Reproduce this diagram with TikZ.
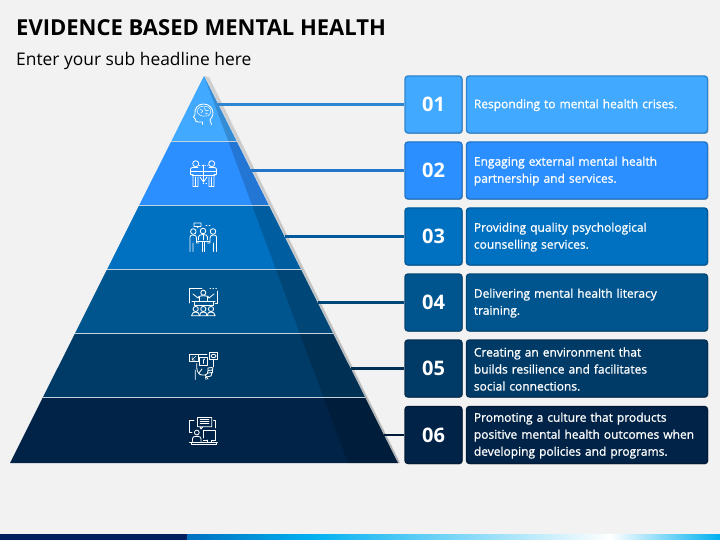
\documentclass[tikz,border=0pt]{standalone}
\usepackage{fontspec}
\setmainfont{Open Sans}
\newfontfamily\semifont[RawFeature={embolden=1.0}]{Open Sans}
\definecolor{pagebg}{HTML}{F2F2F2}
\definecolor{cA}{HTML}{41A9FF}\definecolor{bA}{HTML}{2E86D0}
\definecolor{cB}{HTML}{2B8FFF}\definecolor{bB}{HTML}{2176CC}
\definecolor{cC}{HTML}{0070C0}\definecolor{bC}{HTML}{005A9C}
\definecolor{cD}{HTML}{00558F}\definecolor{bD}{HTML}{004676}
\definecolor{cE}{HTML}{003A66}\definecolor{bE}{HTML}{002F54}
\definecolor{cF}{HTML}{002347}\definecolor{bF}{HTML}{001B38}
\definecolor{sepline}{HTML}{C4D2DE}
\definecolor{navybar}{HTML}{001F5F}
\definecolor{barblue}{HTML}{0070C0}
\definecolor{barcyan}{HTML}{00B0F0}
\usetikzlibrary{shadows}
\tikzset{
  softshadow/.style={drop shadow={shadow xshift=0.8pt,shadow yshift=-0.8pt,opacity=0.35,fill=black}},
  numbox/.style={rectangle,rounded corners=3pt,line width=1.4pt,minimum width=57pt,minimum height=57pt,
    inner sep=0pt,text=white,font=\fontsize{20}{24}\selectfont\bfseries,softshadow},
  txtbox/.style={rectangle,rounded corners=3pt,line width=1.4pt,minimum width=241pt,minimum height=57pt,
    inner sep=0pt,softshadow},
  txtlabel/.style={inner sep=0pt,text width=227pt,align=left,text=white,
    font=\semifont\fontsize{12}{17}\selectfont},
  linker/.style={line width=2.2pt},
  icon/.style={draw=white,line width=0.85pt,line join=round,line cap=round,fill=none},
  headline/.style={anchor=base west,inner sep=0pt,text=black},
}
\newcommand{\rowboxes}[6]{%
  \node[numbox,fill=#2,draw=#3] (num#1) at (433.5,#4) {#5};
  \node[txtbox,fill=#2,draw=#3] (txt#1) at (587,#4) {};
  \node[txtlabel] (lab#1) at (587.4,#4+0.6) {#6};
}
\begin{document}
\begin{tikzpicture}[x=1pt,y=-1pt]
\useasboundingbox (0,0) rectangle (720,540);
\fill[pagebg] (0,0) rectangle (720,540);
% bottom bar
\fill[left color=barblue,right color=barcyan] (187,534) rectangle (310,540);
\fill[left color=barcyan,right color=white] (310,534) rectangle (610,540);
\fill[left color=white,right color=barcyan] (610,534) rectangle (720,540);
\fill[navybar] (0,534) rectangle (187,540);
% titles
\node[headline,font=\fontsize{22}{26}\selectfont\bfseries] (title) at (16,36) {EVIDENCE BASED MENTAL HEALTH};
\node[headline,font=\fontsize{17.4}{20}\selectfont] (sub) at (16,66) {Enter your sub headline here};
% pyramid shadow
\foreach \d in {1,2,...,6}{
  \draw[black,opacity=0.08,line width=1pt] (204+\d*0.8,76+\d*0.2) -- (398+\d*0.3,463);
}
% pyramid
\begin{scope}
  \clip (204,76) -- (398,463) -- (10,463) -- cycle;
  \fill[cA] (0,70) rectangle (420,141.5);
  \fill[cB] (0,141.5) rectangle (420,205.5);
  \fill[cC] (0,205.5) rectangle (420,269.5);
  \fill[cD] (0,269.5) rectangle (420,333.5);
  \fill[cE] (0,333.5) rectangle (420,397.5);
  \fill[cF] (0,397.5) rectangle (420,470);
  \fill[black,opacity=0.17] (204,76) -- (348,463) -- (398,463) -- cycle;
  \foreach \y in {141.5,205.5,269.5,333.5,397.5}{
    \draw[sepline,line width=0.9pt] (0,\y) -- (420,\y);
  }
\end{scope}
% boxes
\rowboxes{1}{cA}{bA}{104.5}{01}{Responding to mental health crises.}
\rowboxes{2}{cB}{bB}{170.5}{02}{Engaging external mental health\\partnership and services.}
\rowboxes{3}{cC}{bC}{236.5}{03}{Providing quality psychological\\counselling services.}
\rowboxes{4}{cD}{bD}{302.5}{04}{Delivering mental health literacy\\training.}
\rowboxes{5}{cE}{bE}{368.5}{05}{Creating an environment that\\builds resilience and facilitates\\social connections.}
\rowboxes{6}{cF}{bF}{435}{06}{Promoting a culture that products\\positive mental health outcomes when\\developing policies and programs.}
% connectors
\coordinate (e1) at (218,104.5);
\coordinate (e2) at (251,170.5);
\coordinate (e3) at (285,236.5);
\coordinate (e4) at (318,302.5);
\coordinate (e5) at (351,368.5);
\coordinate (e6) at (384,435);
\draw[linker,bA] (e1) -- (num1);
\draw[linker,bB] (e2) -- (num2);
\draw[linker,bC] (e3) -- (num3);
\draw[linker,bD] (e4) -- (num4);
\draw[linker,bE] (e5) -- (num5);
\draw[linker,bF] (e6) -- (num6);
% icon 1: head with brain
\draw[icon] (202.5,124.5) -- (202.5,122) -- (198,122) .. controls (196,122) and (195.2,121) .. (195.2,119) -- (193.5,117) -- (195,114.5) .. controls (194,108.5) and (198,104) .. (203.5,104) .. controls (209,104) and (213,108) .. (213,113) .. controls (213,117) and (210.5,118) .. (210,120) -- (211.5,124.5);
\draw[icon,line width=0.5pt] (197.5,110) .. controls (198,106.5) and (203,105.5) .. (206,106.5) .. controls (210,107) and (211.5,110) .. (210.5,113) .. controls (210,116) and (207,116.5) .. (205,116) .. controls (202,117) and (199,114.5) .. (197.5,113) -- cycle;
\draw[icon,line width=0.5pt] (200,109) -- (203,111) -- (201,113) (204,107.5) -- (206,111) -- (209,110) (205,113) -- (208,114);
% icon 2: meeting, two people
\draw[icon] (195.7,163.7) circle (3) (211.7,163.7) circle (3);
\draw[icon] (198,167.5) -- (192.5,167.5) .. controls (191,167.5) and (190.5,168.5) .. (190.5,170) -- (190.5,174.5) -- (193,174.5) -- (193,186.5) -- (198,186.5) -- (198,177) (195.5,186.5) -- (195.5,177);
\draw[icon] (209,167.5) -- (214.5,167.5) .. controls (216,167.5) and (216.5,168.5) .. (216.5,170) -- (216.5,174.5) -- (214,174.5) -- (214,186.5) -- (209,186.5) -- (209,177) (211.5,186.5) -- (211.5,177);
\draw[icon] (191,171.5) -- (216,171.5) (192,175) -- (215,175);
\draw[icon] (203.5,165) -- (203.5,182) (200,177) -- (203.5,182) -- (207,177);
\draw[icon,dotted,line width=0.5pt] (199,165) -- (208,165) (203,183) -- (208,183);
% icon 3: three people
\draw[icon] (193.3,231.5) circle (2.8) (203,231) circle (2.8) (213,231.5) circle (2.8);
\draw[icon] (194,223) rectangle (201,226.5) (197,226.5) -- (198,228);
\draw[icon,line width=0.6pt] (206,225.5) -- (207,225.5) (209,225.5) -- (210,225.5);
\draw[icon] (190,251.5) -- (190,237) .. controls (190,235.5) and (191,235) .. (193,235) .. controls (195.5,235) and (196.5,236) .. (196.5,238) -- (196.5,243) -- (199,243) (193,251.5) -- (193,243);
\draw[icon] (216.5,251.5) -- (216.5,237) .. controls (216.5,235.5) and (215.5,235) .. (213.5,235) .. controls (211,235) and (210,236) .. (210,238) -- (210,243) -- (207.5,243) (213.5,251.5) -- (213.5,243);
\draw[icon] (198.5,240) -- (198.5,237) .. controls (198.5,235.5) and (200,234.5) .. (203,234.5) .. controls (206,234.5) and (207.5,235.5) .. (207.5,237) -- (207.5,240);
\draw[icon] (197,241.5) -- (209.5,241.5) (202,241.5) -- (202,251.5) (204.5,241.5) -- (204.5,251.5) (203,235) -- (203,240);
% icon 4: board and audience
\draw[icon] (202,288.5) -- (189.5,288.5) -- (189.5,303) (217.5,291) -- (217.5,303) -- (215,303);
\draw[icon,dotted,line width=0.6pt] (210,288.5) -- (217.5,288.5);
\draw[icon] (203.3,292.7) circle (2.5);
\draw[icon] (193,294) -- (198,298) -- (199,296.5) .. controls (201,295.5) and (206,295.5) .. (208,296.5) -- (209,298) -- (214,294);
\draw[icon] (199.5,297) -- (199.5,301) (207,297) -- (207,301);
\draw[icon,line width=1pt] (192,301.5) -- (215,301.5);
\draw[icon] (194,302.5) -- (194,305) -- (213,305) -- (213,302.5);
\draw[icon] (195.7,309) circle (2.6) (203.3,309) circle (2.6) (211,309) circle (2.6);
\draw[icon] (191.5,315.7) .. controls (192,313) and (193.5,312) .. (195.7,312) .. controls (198,312) and (199.2,313) .. (199.5,315.7) -- cycle;
\draw[icon] (199.5,315.7) .. controls (199.7,313) and (201,312) .. (203.3,312) .. controls (205.5,312) and (207,313) .. (207.2,315.7) -- cycle;
\draw[icon] (207.2,315.7) .. controls (207.5,313) and (208.7,312) .. (211,312) .. controls (213.2,312) and (214.7,313) .. (215.2,315.7) -- cycle;
% icon 5: social media hand
\draw[icon] (189.3,354.5) rectangle (198,361.8);
\draw[icon] (199,357.5) rectangle (207.7,365);
\draw[icon] (209.3,352.5) rectangle (217.7,359.7);
\draw[icon] (213.5,356) ellipse (2.5 and 1.7);
\draw[icon,line width=0.5pt] (192,360) -- (196,356) (192,356.5) -- (192,360) -- (195,360);
\draw[icon,line width=0.8pt] (203.5,363.5) -- (203.5,360) -- (204.5,359);
\draw[icon] (199,354.5) -- (207,354.5);
\draw[icon] (213,360) -- (213,367);
\draw[icon] (195.3,379.5) -- (195.3,370) (196.8,363.5) -- (196.8,368) .. controls (197,372) and (199,375) .. (202,375) -- (205,375) -- (208,379) (205,375) .. controls (207,375) and (208,373) .. (208,371) -- (208,368);
\draw[icon] (208,368) -- (212,367.5) .. controls (213,367.5) and (213,369.5) .. (212.5,370) -- (208,370.5) (212.5,370) -- (212.5,372.5) -- (208,373) (212,373) -- (211,376) -- (206,377) (205.5,377) -- (206,379.5);
\draw[icon] (199,373) -- (202,369);
% icon 6: desk, chat and monitor
\draw[icon] (197.5,417.5) rectangle (211.7,426.7) (200,426.7) -- (201,429) -- (203,426.7);
\draw[icon,line width=0.5pt] (200,419.7) -- (209,419.7) (200,421.7) -- (209,421.7) (200,423.7) -- (209,423.7);
\draw[icon] (194,420) -- (189.5,420) -- (189.5,432.5) -- (192,432.5);
\draw[icon] (213.5,420) -- (215.7,420) -- (215.7,428);
\draw[icon] (196.8,432.5) circle (2.4);
\draw[icon] (192.5,441.5) -- (192.5,438.5) .. controls (192.5,437) and (194,436.3) .. (196.8,436.3) .. controls (199.5,436.3) and (201,437) .. (201,438.5) -- (201,441.5);
\draw[icon] (203.3,430.8) -- (215.7,430.8) -- (215.7,440) -- (211.5,440) -- (211.5,442) (203.3,438) -- (203.3,430.8) (207.5,440) -- (207.5,442) (203.3,440) -- (207.5,440);
\draw[icon,line width=0.9pt] (189.5,442.3) -- (217.5,442.3);
\draw[icon] (191,442.3) -- (191,444.4) -- (216.5,444.4) -- (216.5,442.3);
\end{tikzpicture}
\end{document}
